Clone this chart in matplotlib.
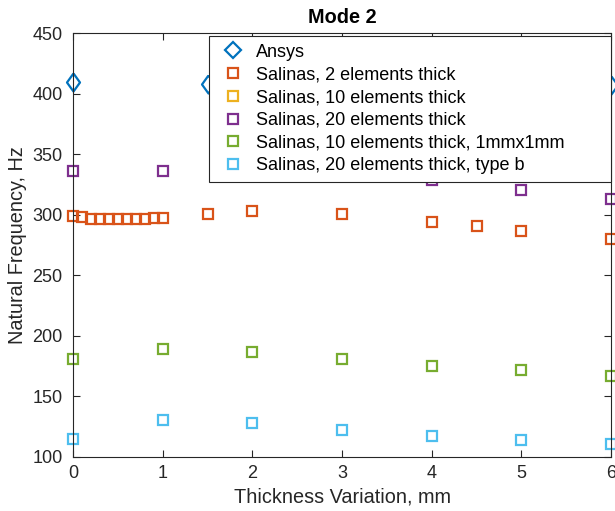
import matplotlib
matplotlib.use("Agg")
import matplotlib.pyplot as plt
import numpy as np

plt.rcParams['font.family'] = ['Liberation Sans', 'DejaVu Sans']

# data
ansys_x = [0, 1.5, 3, 4.5, 6]
ansys_y = [409.2, 408.0, 407.5, 407.3, 407.0]

el2_x = [0, 0.1, 0.2, 0.3, 0.4, 0.5, 0.6, 0.7, 0.8, 0.9, 1.0, 1.5, 2, 3, 4, 4.5, 5, 6]
el2_y = [299, 298, 296.5, 296.5, 296.5, 296.5, 296.5, 296.5, 296.5, 297.5, 297.5,
         301, 303, 301, 293.6, 290.3, 286.7, 279.6]

el10_x = [2, 3]
el10_y = [342, 340]

el20_x = [0, 1, 2, 3, 4, 5, 6]
el20_y = [336.2, 336.2, 337, 336, 328.5, 320.2, 313]

el10_1mm_x = [0, 1, 2, 3, 4, 5, 6]
el10_1mm_y = [180.6, 188.8, 186.4, 180.6, 175.3, 171.5, 166.8]

el20b_x = [0, 1, 2, 3, 4, 5, 6]
el20b_y = [115.1, 130.5, 128.3, 122.3, 117.3, 114.0, 111.0]

labels = ['Ansys', 'Salinas, 2 elements thick', 'Salinas, 10 elements thick',
          'Salinas, 20 elements thick', 'Salinas, 10 elements thick, 1mmx1mm',
          'Salinas, 20 elements thick, type b']
colors = ['#0072BD', '#D95319', '#EDB120', '#7E2F8E', '#77AC30', '#4DBEEE']

fig = plt.figure(figsize=(6.15, 5.11), dpi=100)
ax = fig.add_axes([0.1187, 0.1057, 0.875, 0.8297])

diamond = [(0, 1), (0.72, 0), (0, -1), (-0.72, 0), (0, 1)]
ax.plot(ansys_x, ansys_y, linestyle='none', marker=diamond, markersize=13,
        markerfacecolor='none', markeredgecolor=colors[0], markeredgewidth=1.6,
        label=labels[0], clip_on=False)
series = [(el2_x, el2_y), (el10_x, el10_y), (el20_x, el20_y),
          (el10_1mm_x, el10_1mm_y), (el20b_x, el20b_y)]
for (x, y), lab, c in zip(series, labels[1:], colors[1:]):
    ax.plot(x, y, linestyle='none', marker='s', markersize=7.5,
            markerfacecolor='none', markeredgecolor=c, markeredgewidth=1.6,
            label=lab, clip_on=False)

ax.set_xlim(0, 6)
ax.set_ylim(100, 450)
ax.set_xticks(range(0, 7))
ax.set_yticks(range(100, 451, 50))

for s in ax.spines.values():
    s.set_color('#262626')
    s.set_linewidth(0.8)
ax.tick_params(direction='in', top=True, right=True, length=5, width=0.8,
               colors='#262626', labelsize=13, labelcolor='#262626')
ax.tick_params(axis='y', pad=7.5)
ax.tick_params(axis='x', pad=6)

ax.set_xlabel('Thickness Variation, mm', fontsize=14.3, color='#262626')
ax.set_ylabel('Natural Frequency, Hz', fontsize=14.3, color='#262626')
ax.set_title('Mode 2', fontsize=14.3, fontweight='bold', pad=7)

leg = ax.legend(loc='upper left', bbox_to_anchor=(0.2528, 0.0, 0.7472, 0.9929),
                mode='expand', fontsize=13,
                frameon=True, fancybox=False, framealpha=1, edgecolor='#262626',
                borderpad=0.42, labelspacing=0.32, handletextpad=0.4,
                handlelength=1.8, borderaxespad=0)
leg.get_frame().set_linewidth(0.8)
leg.set_zorder(10)
for i, h in enumerate(leg.legend_handles):
    if i == 0:
        h.set_marker('D')
        h.set_markersize(8)
    else:
        h.set_markersize(7.5)

fig.savefig('out.png', dpi=100)
